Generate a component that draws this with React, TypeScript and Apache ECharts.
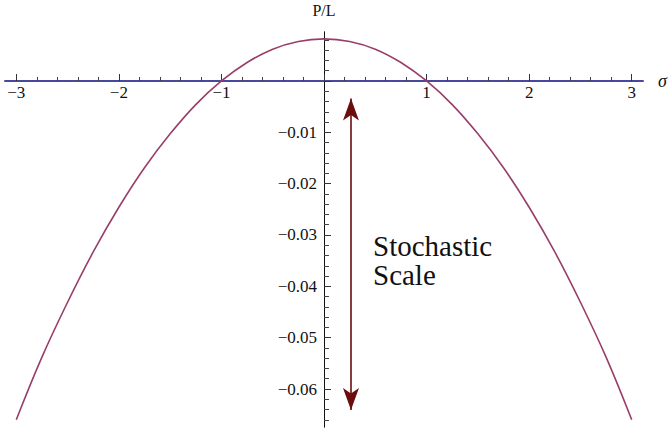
import React, { useEffect, useRef } from "react";
import * as echarts from "echarts";

const sigma = [-3, -2.75, -2.5, -2.25, -2, -1.75, -1.5, -1.25, -1, -0.75, -0.5, -0.25, 0,
  0.25, 0.5, 0.75, 1, 1.25, 1.5, 1.75, 2, 2.25, 2.5, 2.75, 3];
const pl = [-0.066, -0.0538, -0.0431, -0.0333, -0.0246, -0.0169, -0.0103, -0.0046, 0, 0.0036, 0.0062, 0.0077, 0.0082,
  0.0077, 0.0062, 0.0036, 0, -0.0046, -0.0103, -0.0169, -0.0246, -0.0333, -0.0431, -0.0538, -0.066];

const xMajor = [-3, -2, -1, 0, 1, 2, 3];
const xLabels = [-3, -2, -1, 1, 2, 3];
const yMajor = [0, -0.01, -0.02, -0.03, -0.04, -0.05, -0.06];
const yLabels = [-0.01, -0.02, -0.03, -0.04, -0.05, -0.06];

const xMinor: number[] = [];
for (let i = -15; i <= 15; i++) if (i % 5 !== 0) xMinor.push(i / 5);
const yMinor: number[] = [];
for (let i = 4; i >= -33; i--) if (i % 5 !== 0) yMinor.push(i / 500);

const arrowX = 0.263;
const arrowTop = -0.0034;
const arrowBottom = -0.0641;

const X_MIN = -3.11, X_MAX = 3.11;
const Y_MIN = -0.0674, Y_MAX = 0.00954;

const GRID = { left: 5, right: 27, top: 32, bottom: 5 };
const W = 670, H = 432;
// pixel offsets that place each axis on the other's zero
const gridW = W - GRID.left - GRID.right;
const gridH = H - GRID.top - GRID.bottom;
const yAxisOffset = -((0 - X_MIN) / (X_MAX - X_MIN)) * gridW;
const xAxisOffset = -((0 - Y_MIN) / (Y_MAX - Y_MIN)) * gridH;

const SERIF = "Liberation Serif";
const minus = (s: string) => s.replace("-", "\u2212");

export default function App() {
  const ref = useRef<HTMLDivElement>(null);
  useEffect(() => {
    if (!ref.current) return;
    const chart = echarts.init(ref.current, null, { renderer: "svg" });
    chart.setOption({
      animation: false,
      backgroundColor: "#fff",
      textStyle: { fontFamily: SERIF, fontSize: 16, color: "#111" },
      grid: { ...GRID, containLabel: false, outerBoundsMode: "none" },
      xAxis: [
        {
          type: "value", min: X_MIN, max: X_MAX, position: "bottom", offset: xAxisOffset,
          axisLine: { show: true, onZero: false, lineStyle: { color: "#3d3d99", width: 1.6 } },
          axisTick: { show: true, inside: true, length: 4, customValues: xMinor, lineStyle: { color: "#444", width: 1 } },
          axisLabel: { show: false },
          splitLine: { show: false },
        },
        {
          type: "value", min: X_MIN, max: X_MAX, position: "bottom", offset: xAxisOffset,
          axisLine: { show: true, onZero: false, lineStyle: { color: "#3d3d99", width: 1.6 } },
          axisTick: { show: true, inside: true, length: 7, customValues: xMajor, lineStyle: { color: "#333", width: 1 } },
          axisLabel: {
            show: true, fontFamily: SERIF, fontSize: 17, color: "#111",
            customValues: xLabels, margin: 3, formatter: (v: number) => minus(String(v)),
          },
          splitLine: { show: false },
          name: "\u03c3", nameLocation: "end", nameGap: 15,
          nameTextStyle: { fontFamily: SERIF, fontSize: 18, fontStyle: "italic", color: "#111", verticalAlign: "middle" },
        },
      ],
      yAxis: [
        {
          type: "value", min: Y_MIN, max: Y_MAX, position: "left", offset: yAxisOffset,
          axisLine: { show: true, onZero: false, lineStyle: { color: "#111", width: 1 } },
          axisTick: { show: true, inside: true, length: 5, customValues: yMinor, lineStyle: { color: "#444", width: 1 } },
          axisLabel: { show: false },
          splitLine: { show: false },
        },
        {
          type: "value", min: Y_MIN, max: Y_MAX, position: "left", offset: yAxisOffset,
          axisLine: { show: true, onZero: false, lineStyle: { color: "#111", width: 1 } },
          axisTick: { show: true, inside: true, length: 7, customValues: yMajor, lineStyle: { color: "#333", width: 1 } },
          axisLabel: {
            show: true, fontFamily: SERIF, fontSize: 17, color: "#111",
            customValues: yLabels, margin: 7, formatter: (v: number) => minus(v.toFixed(2)),
          },
          splitLine: { show: false },
          name: "P/L", nameLocation: "end", nameGap: 14,
          nameTextStyle: { fontFamily: SERIF, fontSize: 16, color: "#111", align: "center" },
        },
      ],
      series: [
        {
          type: "line",
          xAxisIndex: 0,
          yAxisIndex: 0,
          data: sigma.map((s, i) => [s, pl[i]]),
          smooth: 0.4,
          showSymbol: false,
          symbol: "none",
          lineStyle: { color: "#993d6b", width: 1.6 },
          silent: true,
          z: 3,
          markLine: {
            silent: true,
            symbol: ["arrow", "arrow"],
            symbolSize: [12, 22],
            label: { show: false },
            lineStyle: { color: "#6a0d0d", width: 1.6, type: "solid" },
            data: [[{ coord: [arrowX, arrowTop] }, { coord: [arrowX, arrowBottom] }]],
          },
        },
      ],
      graphic: [
        {
          type: "text",
          left: 373,
          top: 231,
          style: { text: "Stochastic\nScale", font: `29px "${SERIF}"`, fill: "#111", lineHeight: 29 },
        },
      ],
    });
    return () => chart.dispose();
  }, []);
  return <div ref={ref} style={{ position: "fixed", left: 0, top: 0, width: W, height: H }} />;
}
